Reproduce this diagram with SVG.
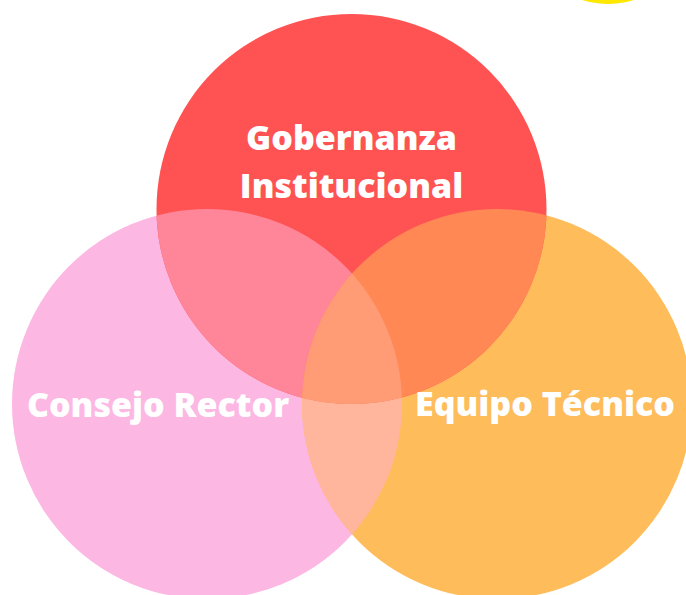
<svg xmlns="http://www.w3.org/2000/svg" width="686" height="595" viewBox="0 0 686 595">
  <style>
    .label { font-family: "Open Sans", "Noto Sans", "Liberation Sans", sans-serif; font-weight: 800; font-size: 34px; fill: #FFFFFF; text-anchor: middle; }
  </style>
  <defs>
    <clipPath id="clipRed"><circle cx="351.5" cy="209" r="195"/></clipPath>
    <clipPath id="clipPink"><circle cx="207" cy="404" r="195"/></clipPath>
    <clipPath id="clipOrange"><circle cx="497" cy="404" r="195"/></clipPath>
  </defs>
  <rect width="686" height="595" fill="#FFFFFF"/>
  <g id="decor-yellow">
    <circle cx="608" cy="-82" r="86" fill="#FFE800"/>
  </g>
  <g id="node-consejo-rector">
    <circle cx="207" cy="404" r="195" fill="#FDB7E3"/>
  </g>
  <g id="node-equipo-tecnico">
    <circle cx="497" cy="404" r="195" fill="#FFBC5B"/>
  </g>
  <g id="node-gobernanza">
    <circle cx="351.5" cy="209" r="195" fill="#FF5353"/>
  </g>
  <g id="overlaps">
    <circle cx="497" cy="404" r="195" fill="#FFB69C" clip-path="url(#clipPink)"/>
    <circle cx="207" cy="404" r="195" fill="#FF8599" clip-path="url(#clipRed)"/>
    <circle cx="497" cy="404" r="195" fill="#FF8855" clip-path="url(#clipRed)"/>
    <g clip-path="url(#clipRed)">
      <circle cx="497" cy="404" r="195" fill="#FF9C76" clip-path="url(#clipPink)"/>
    </g>
  </g>
  <g id="labels">
    <text class="label" x="351.5" y="149.5">Gobernanza</text>
    <text class="label" x="351.5" y="198">Institucional</text>
    <text class="label" x="158" y="417">Consejo Rector</text>
    <text class="label" x="545" y="416">Equipo Técnico</text>
  </g>
</svg>
